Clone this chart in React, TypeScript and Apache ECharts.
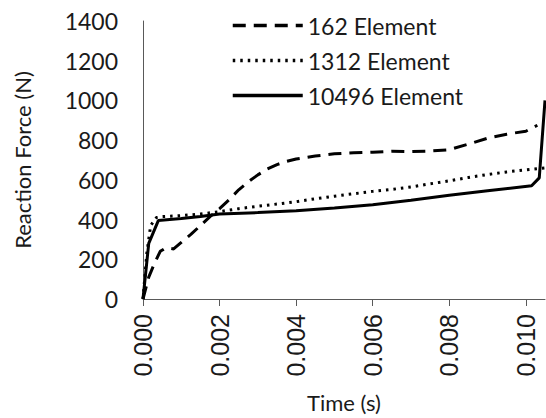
import React, { useEffect, useRef } from "react";
import * as echarts from "echarts";

const seriesNames = ["162 Element", "1312 Element", "10496 Element"];

const time162 = [0, 0.00015, 0.0003, 0.00045, 0.0006, 0.0008, 0.001, 0.00125, 0.0015, 0.00175, 0.002, 0.00225, 0.0025, 0.00275, 0.003, 0.00325, 0.0035, 0.00375, 0.004, 0.0045, 0.005, 0.0055, 0.006, 0.0065, 0.007, 0.0075, 0.008, 0.0085, 0.009, 0.0095, 0.01, 0.0103];
const force162 = [0, 110, 180, 240, 258, 252, 285, 325, 370, 415, 455, 500, 550, 590, 625, 655, 677, 693, 705, 720, 731, 736, 739, 744, 742, 745, 752, 780, 810, 830, 845, 875];

const time1312 = [0, 0.0001, 0.0002, 0.00035, 0.0005, 0.001, 0.0015, 0.002, 0.0025, 0.003, 0.0035, 0.004, 0.0045, 0.005, 0.0055, 0.006, 0.0065, 0.007, 0.0075, 0.008, 0.0085, 0.009, 0.0095, 0.01, 0.0105];
const force1312 = [0, 230, 370, 410, 415, 420, 428, 440, 455, 467, 478, 490, 505, 518, 530, 542, 552, 564, 580, 595, 612, 627, 640, 650, 660];

const time10496 = [0, 0.00015, 0.0004, 0.001, 0.0015, 0.002, 0.003, 0.004, 0.005, 0.006, 0.007, 0.008, 0.009, 0.01015, 0.01035, 0.0105];
const force10496 = [0, 280, 395, 405, 415, 428, 435, 445, 458, 475, 497, 522, 545, 570, 610, 1000];

const xTickValues = [0, 0.002, 0.004, 0.006, 0.008, 0.01];

const zip = (xs: number[], ys: number[]) => xs.map((x, i) => [x, ys[i]]);

export default function App() {
  const ref = useRef<HTMLDivElement>(null);
  useEffect(() => {
    if (!ref.current) return;
    const chart = echarts.init(ref.current, null, { renderer: "svg" });
    const textColor = "#1a1a1a";
    const axisColor = "#595959";
    chart.setOption({
      animation: false,
      backgroundColor: "#ffffff",
      grid: { left: 143, top: 21, right: 1, bottom: 116, containLabel: false },
      legend: {
        orient: "vertical",
        left: 226,
        top: 9,
        itemWidth: 70,
        itemHeight: 14,
        itemGap: 12,
        itemStyle: { opacity: 0 },
        lineStyle: { width: 3.5 },
        textStyle: { fontFamily: "Lato", fontSize: 23, color: textColor },
        data: seriesNames,
      },
      xAxis: {
        type: "value",
        min: 0,
        max: 0.0105,
        interval: 0.002,
        name: "Time (s)",
        nameLocation: "middle",
        nameGap: 92,
        nameTextStyle: { fontFamily: "Lato", fontSize: 22, color: textColor },
        axisLine: { show: true, lineStyle: { color: axisColor, width: 1 } },
        axisTick: { show: true, length: 7, lineStyle: { color: axisColor }, customValues: xTickValues },
        axisLabel: {
          rotate: 90,
          margin: 15,
          fontFamily: "Liberation Sans",
          fontSize: 25,
          color: textColor,
          customValues: xTickValues,
          formatter: (v: number) => v.toFixed(3),
        },
        splitLine: { show: false },
      },
      yAxis: {
        type: "value",
        min: 0,
        max: 1400,
        interval: 200,
        name: "Reaction Force (N)",
        nameLocation: "middle",
        nameGap: 110,
        nameTextStyle: { fontFamily: "Lato", fontSize: 22, color: textColor },
        axisLine: { show: true, lineStyle: { color: axisColor, width: 1 } },
        axisTick: { show: false },
        axisLabel: {
          margin: 25,
          fontFamily: "Lato",
          fontSize: 23,
          color: textColor,
          formatter: (v: number) => String(v),
        },
        splitLine: { show: false },
      },
      series: [
        {
          name: seriesNames[0],
          type: "line",
          data: zip(time162, force162),
          showSymbol: false,
          symbol: "none",
          lineStyle: { color: "#000", width: 3, type: [13, 8] },
          itemStyle: { color: "#000" },
        },
        {
          name: seriesNames[1],
          type: "line",
          data: zip(time1312, force1312),
          showSymbol: false,
          symbol: "none",
          lineStyle: { color: "#000", width: 3, type: [2.5, 5] },
          itemStyle: { color: "#000" },
        },
        {
          name: seriesNames[2],
          type: "line",
          data: zip(time10496, force10496),
          showSymbol: false,
          symbol: "none",
          lineStyle: { color: "#000", width: 3 },
          itemStyle: { color: "#000" },
        },
      ],
    });
    return () => chart.dispose();
  }, []);
  return (
    <div
      ref={ref}
      style={{ position: "fixed", left: 0, top: 0, width: 546, height: 418 }}
    />
  );
}
